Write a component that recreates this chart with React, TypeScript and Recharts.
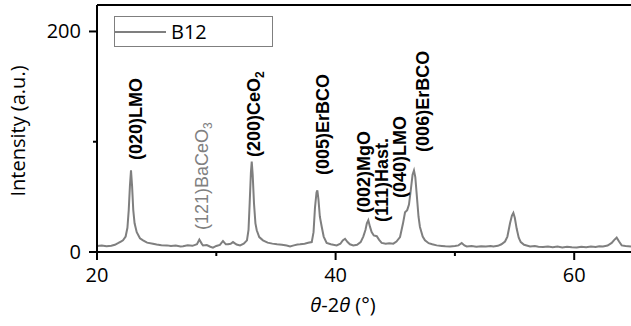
import React from 'react';
import { LineChart, Line, XAxis, YAxis, ReferenceLine, ReferenceDot, Legend } from 'recharts';

const TWO_THETA = [20.0, 20.4, 20.8, 21.2, 21.5, 21.76, 22.0, 22.18, 22.4, 22.55, 22.66, 22.76, 22.85, 22.94, 23.04, 23.15, 23.33, 23.6, 23.86, 24.2, 24.69, 25.0, 25.4, 25.87, 26.2, 26.6, 27.0, 27.21, 27.6, 28.0, 28.38, 28.58, 28.8, 28.89, 29.2, 29.5, 29.72, 30.0, 30.3, 30.56, 30.8, 30.98, 31.2, 31.4, 31.7, 31.99, 32.3, 32.57, 32.7, 32.8, 32.9, 32.97, 33.05, 33.16, 33.28, 33.39, 33.6, 33.91, 34.3, 34.7, 35.09, 35.5, 35.9, 36.18, 36.5, 36.8, 37.02, 37.4, 37.7, 38.0, 38.15, 38.27, 38.4, 38.47, 38.56, 38.68, 38.84, 39.0, 39.25, 39.6, 40.09, 40.4, 40.6, 40.79, 41.0, 41.2, 41.48, 41.8, 42.1, 42.32, 42.5, 42.62, 42.74, 42.88, 43.02, 43.2, 43.45, 43.65, 43.86, 44.2, 44.5, 44.84, 45.1, 45.4, 45.65, 45.82, 46.0, 46.15, 46.3, 46.45, 46.57, 46.68, 46.8, 46.95, 47.07, 47.3, 47.49, 47.8, 48.1, 48.47, 48.9, 49.2, 49.59, 50.0, 50.3, 50.57, 50.8, 50.99, 51.4, 51.8, 52.2, 52.6, 53.0, 53.22, 53.6, 53.9, 54.2, 54.4, 54.62, 54.78, 54.9, 55.02, 55.18, 55.35, 55.52, 55.8, 56.3, 56.7, 57.0, 57.39, 57.8, 58.2, 58.6, 59.0, 59.4, 59.8, 60.21, 60.6, 61.0, 61.4, 61.8, 62.1, 62.41, 62.8, 63.14, 63.36, 63.56, 63.76, 63.98, 64.3, 64.76];

const B12 = [5.5, 5.8, 5.2, 5.6, 6.5, 8, 9.5, 10.6, 14, 22, 38, 60, 74, 60, 38, 26, 18, 12.5, 10.6, 8.5, 7.5, 6.8, 6.2, 6, 5.4, 5.8, 5, 5.3, 6.2, 5.6, 7, 11.2, 7.2, 6, 6.3, 4.8, 4, 5.5, 6.5, 10, 7, 7, 7.5, 9, 6.8, 6, 7.5, 10.6, 20, 45, 72, 82, 70, 44, 26, 19.7, 13.5, 10.6, 8.5, 7.6, 7, 6.5, 5.8, 5, 6, 6.8, 7, 7.5, 8.3, 9, 18, 40, 54, 56, 48, 32, 22.7, 14, 8.2, 7, 6, 7.5, 10.5, 12, 9, 7, 6, 6.5, 9, 14, 20, 26, 28.8, 23, 18, 15, 14.3, 11, 8.2, 7.5, 8, 7.6, 9.5, 13.6, 26, 36, 38, 43, 56, 70, 74, 68, 52, 32, 22.7, 14, 10.6, 8, 7, 6, 5.5, 5.2, 5, 5.5, 6, 8.2, 6, 5, 5.4, 4.8, 5.3, 5, 5.4, 5, 5.6, 7, 9.5, 14, 26, 33, 35.5, 31, 21, 13, 9, 6.5, 5, 5.4, 4.8, 4.5, 5, 4.4, 4.9, 4.2, 4.8, 4.3, 4, 4.7, 4.4, 5, 4.6, 5.2, 5, 5.8, 8.2, 11, 13, 9.5, 6, 5.5, 5];

const X_TICKS = [20, 30, 40, 50, 60];
const X_LABELED = [20, 40, 60];
const Y_TICKS = [0, 100, 200];
const Y_LABELED = [0, 200];
const X_DOMAIN = [20, 64.76];
const Y_DOMAIN = [0, 224];

const PEAK_LABELS = ['(020)LMO', '(121)BaCeO', '(200)CeO', '(005)ErBCO', '(002)MgO', '(111)Hast.', '(040)LMO', '(006)ErBCO'];
const PEAK_SUBS = ['', '3', '2', '', '', '', '', ''];
const PEAK_X = [23.77, 29.3, 33.66, 39.45, 42.88, 44.39, 45.9, 47.83];
const PEAK_Y = [83.5, 20, 86.2, 69.9, 35.4, 27.2, 49, 90.8];
const PEAK_MUTED = [false, true, false, false, false, false, false, false];

const data = TWO_THETA.map((t, i) => ({ t, v: B12[i] }));
const FONT = '"Open Sans", sans-serif';
const LINE_COLOR = '#7f7f7f';

const XTick = (props: any) => {
  const { x, y, payload } = props;
  const major = X_LABELED.includes(payload.value);
  return (
    <g>
      <line x1={x} x2={x} y1={y} y2={y + (major ? 8 : 4)} stroke="#000" strokeWidth={2} />
      {major && (
        <text x={x} y={y + 30} textAnchor="middle" fontFamily={FONT} fontSize={20} fill="#000">
          {payload.value}
        </text>
      )}
    </g>
  );
};

const YTick = (props: any) => {
  const { x, y, payload } = props;
  const major = Y_LABELED.includes(payload.value);
  return (
    <g>
      <line x1={x - (major ? 8 : 4)} x2={x} y1={y} y2={y} stroke="#000" strokeWidth={2} />
      {major && (
        <text x={x - 16} y={y + 7} textAnchor="end" fontFamily={FONT} fontSize={20} fill="#000">
          {payload.value}
        </text>
      )}
    </g>
  );
};

const LegendBox = () => (
  <div
    style={{
      width: 159,
      height: 31,
      boxSizing: 'border-box',
      border: '1px solid #7f7f7f',
      display: 'flex',
      alignItems: 'center',
      fontFamily: FONT,
      fontSize: 20,
      color: '#000',
    }}
  >
    <svg width={52} height={4} style={{ marginLeft: -1 }}>
      <line x1={0} x2={52} y1={2} y2={2} stroke={LINE_COLOR} strokeWidth={2} />
    </svg>
    <span style={{ marginLeft: 5, lineHeight: '20px' }}>B12</span>
  </div>
);

const makePeakShape = (i: number) => (p: any) => {
  const { cx, cy } = p;
  return (
    <text
      x={cx}
      y={cy}
      transform={`rotate(-90 ${cx} ${cy})`}
      textAnchor="start"
      fontFamily='"Liberation Sans", Arial, sans-serif'
      fontSize={18}
      fontWeight={PEAK_MUTED[i] ? 'normal' : 'bold'}
      fill={PEAK_MUTED[i] ? '#808080' : '#000'}
    >
      {PEAK_LABELS[i]}
      {PEAK_SUBS[i] && (
        <tspan fontSize={12} dy={4}>
          {PEAK_SUBS[i]}
        </tspan>
      )}
    </text>
  );
};

export default function App() {
  return (
    <div style={{ position: 'absolute', left: 0, top: 0, width: 631, height: 326, background: '#fff' }}>
      <LineChart width={631} height={326} data={data} margin={{ top: 5, right: 0, left: 0, bottom: 0 }}>
        <XAxis
          dataKey="t"
          type="number"
          domain={X_DOMAIN}
          ticks={X_TICKS}
          allowDataOverflow
          height={74}
          tickSize={0}
          tickMargin={0}
          tickLine={false}
          tick={<XTick />}
          axisLine={{ stroke: '#000', strokeWidth: 2 }}
          interval={0}
        />
        <YAxis
          type="number"
          domain={Y_DOMAIN}
          ticks={Y_TICKS}
          allowDataOverflow
          width={97}
          tickSize={0}
          tickMargin={0}
          tickLine={false}
          tick={<YTick />}
          axisLine={{ stroke: '#000', strokeWidth: 2 }}
          interval={0}
        />
        <ReferenceLine y={Y_DOMAIN[1]} stroke="#000" strokeWidth={2} ifOverflow="extendDomain" />
        <Line
          dataKey="v"
          name="B12"
          type="linear"
          stroke={LINE_COLOR}
          strokeWidth={2}
          dot={false}
          isAnimationActive={false}
        />
        {PEAK_LABELS.map((_, i) => (
          <ReferenceDot key={i} x={PEAK_X[i]} y={PEAK_Y[i]} r={1} shape={makePeakShape(i)} />
        ))}
        <Legend
          layout="horizontal"
          verticalAlign="middle"
          content={<LegendBox />}
          wrapperStyle={{ position: 'absolute', left: 114, top: 16, width: 159, height: 31 }}
        />
      </LineChart>
      <svg width={631} height={326} style={{ position: 'absolute', left: 0, top: 0, pointerEvents: 'none' }}>
        <text
          transform="translate(25 131) rotate(-90)"
          textAnchor="middle"
          fontFamily={FONT}
          fontSize={20}
          fill="#000"
        >
          Intensity (a.u.)
        </text>
        <text x={343} y={312} textAnchor="middle" fontFamily={FONT} fontSize={20} fill="#000">
          <tspan fontStyle="italic">θ</tspan>
          <tspan>-2</tspan>
          <tspan fontStyle="italic">θ</tspan>
          <tspan> (°)</tspan>
        </text>
      </svg>
    </div>
  );
}
